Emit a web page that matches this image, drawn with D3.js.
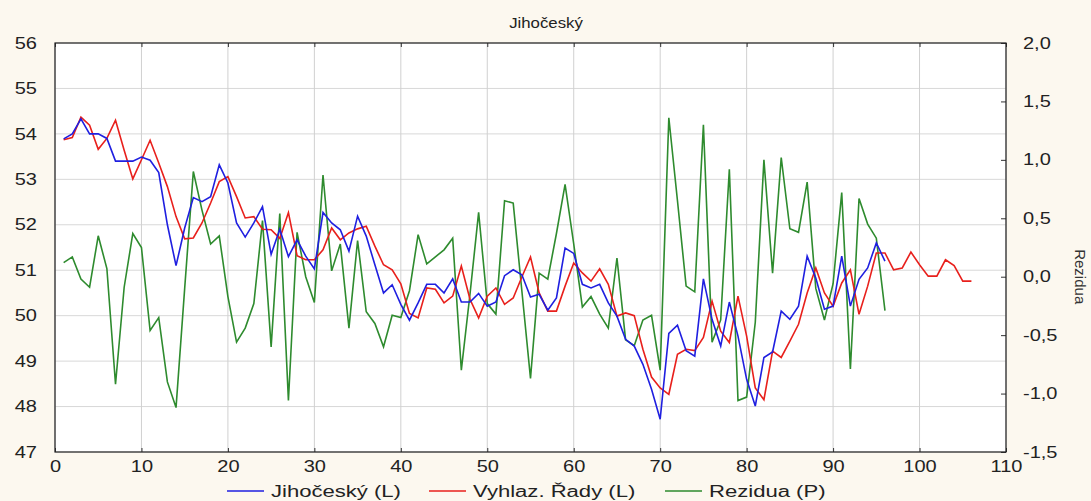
<!DOCTYPE html>
<html>
<head>
<meta charset="utf-8">
<script src="https://cdn.jsdelivr.net/npm/d3@7/dist/d3.min.js"></script>
<style>
    html, body { margin: 0; padding: 0; background: #fcf8ef; }
    svg { display: block; font-family: "Liberation Sans", Arial, sans-serif; }
</style>
</head>
<body>
<svg id="chart" width="1091" height="501"></svg>
<script>
(function () {
    'use strict';

    var title = 'Jihočeský';
    var xTicks = [0, 10, 20, 30, 40, 50, 60, 70, 80, 90, 100, 110];
    var leftTicks = [47, 48, 49, 50, 51, 52, 53, 54, 55, 56];
    var rightTicks = [-1.5, -1.0, -0.5, 0.0, 0.5, 1.0, 1.5, 2.0];

    // Jihočeský (L), t = 1..96
    var observed = [
        53.89, 54.0, 54.33, 54.0, 54.0, 53.9, 53.4, 53.4, 53.4, 53.49,
        53.42, 53.15, 52.0, 51.1, 51.93, 52.6, 52.51, 52.62, 53.32, 52.92,
        52.04, 51.73, 52.04, 52.4, 51.35, 51.9, 51.3, 51.67, 51.31, 51.03,
        52.27, 52.04, 51.89, 51.42, 52.19, 51.75, 51.12, 50.5, 50.68, 50.25,
        49.9, 50.28, 50.69, 50.69, 50.5, 50.81, 50.3, 50.3, 50.49, 50.21,
        50.3, 50.88, 51.01, 50.9, 50.41, 50.47, 50.12, 50.39, 51.49, 51.37,
        50.69, 50.61, 50.69, 50.28, 49.99, 49.48, 49.33, 48.93, 48.38, 47.72,
        49.61, 49.79, 49.23, 49.11, 50.81, 49.92, 49.33, 50.3, 49.55, 48.6,
        48.01, 49.08, 49.2, 50.1, 49.92, 50.21, 51.31, 50.83, 50.14, 50.21,
        51.31, 50.21, 50.8, 51.05, 51.6, 51.2
    ];

    // Vyhlaz. Řady (L), t = 1..106
    var smoothed = [
        53.87, 53.92, 54.37, 54.19, 53.66, 53.9, 54.3, 53.64, 53.01, 53.43,
        53.86, 53.36, 52.84, 52.18, 51.69, 51.71, 52.04, 52.48, 52.95, 53.06,
        52.62, 52.15, 52.18, 51.9, 51.89, 51.7, 52.27, 51.32, 51.23, 51.23,
        51.45, 51.93, 51.67, 51.82, 51.91, 51.97, 51.53, 51.12, 51.01, 50.7,
        50.05, 49.95, 50.61, 50.58, 50.28, 50.43, 51.09, 50.36, 49.95, 50.43,
        50.61, 50.25, 50.39, 50.85, 51.29, 50.5, 50.1, 50.1, 50.65, 51.16,
        50.94, 50.76, 51.03, 50.69, 49.99, 50.06, 50.0, 49.26, 48.65, 48.41,
        48.27, 49.15, 49.26, 49.23, 49.52, 50.32, 49.66, 49.41, 50.43, 49.55,
        48.41, 48.15, 49.22, 49.08, 49.44, 49.81, 50.5, 51.05, 50.5, 50.21,
        50.72, 51.01, 50.03, 50.65, 51.38, 51.38, 51.01, 51.05, 51.4, 51.12,
        50.87, 50.87, 51.23, 51.1, 50.76, 50.76
    ];

    // Rezidua (P), t = 1..96
    var residuals = [
        0.12, 0.17, -0.02, -0.09, 0.35, 0.07, -0.92, -0.09, 0.37, 0.25,
        -0.46, -0.35, -0.9, -1.12, -0.1, 0.9, 0.57, 0.28, 0.35, -0.17,
        -0.56, -0.44, -0.23, 0.48, -0.6, 0.54, -1.06, 0.38, 0.0, -0.22,
        0.87, 0.05, 0.28, -0.44, 0.31, -0.3, -0.4, -0.6, -0.33, -0.35,
        -0.12, 0.36, 0.11, 0.17, 0.23, 0.33, -0.8, -0.15, 0.55, -0.23,
        -0.32, 0.65, 0.63, -0.12, -0.87, 0.03, -0.02, 0.37, 0.79, 0.28,
        -0.26, -0.17, -0.32, -0.44, 0.16, -0.54, -0.59, -0.37, -0.33, -0.8,
        1.36, 0.65, -0.08, -0.13, 1.3, -0.56, -0.37, 0.92, -1.06, -1.03,
        -0.39, 1.0, 0.03, 1.02, 0.41, 0.38, 0.81, -0.1, -0.37, -0.06,
        0.72, -0.79, 0.67, 0.45, 0.33, -0.29
    ];

    var legendItems = [
        {label: 'Jihočeský (L)', color: '#1f1fe0', x: 227},
        {label: 'Vyhlaz. Řady (L)', color: '#e8201c', x: 429},
        {label: 'Rezidua (P)', color: '#2e8b2e', x: 665}
    ];

    var margin = {left: 55, right: 85, top: 43, bottom: 49};
    var width = 1091;
    var height = 501;
    var plotW = width - margin.left - margin.right;
    var plotH = height - margin.top - margin.bottom;

    // the original picture is a little wider than tall, text comes out stretched
    var STRETCH = 1.25;

    var svg = d3.select('#chart');

    var x = d3.scaleLinear().domain([0, 110]).range([0, plotW]);
    var yL = d3.scaleLinear().domain([47, 56]).range([plotH, 0]);
    var yR = d3.scaleLinear().domain([-1.5, 2.0]).range([plotH, 0]);

    var fmtComma = function (d) {
        return d3.format('.1f')(d).replace('.', ',').replace('\u2212', '-');
    };

    function stretchText(sel, sx) {
        sel.each(function () {
            var t = d3.select(this);
            var tx = +t.attr('x') || 0;
            t.attr('x', tx / sx).attr('transform', 'scale(' + sx + ',1)');
        });
    }

    svg.append('text')
        .attr('transform', 'translate(546,28) scale(1.12,1)')
        .attr('text-anchor', 'middle')
        .attr('font-size', 15)
        .attr('fill', '#222')
        .text(title);

    var g = svg.append('g').attr('transform', 'translate(' + margin.left + ',' + margin.top + ')');

    g.append('rect')
        .attr('width', plotW)
        .attr('height', plotH)
        .attr('fill', '#ffffff');

    //Grid
    g.append('g').selectAll('line').data(leftTicks).enter()
        .append('line')
        .attr('x1', 0).attr('x2', plotW)
        .attr('y1', yL).attr('y2', yL)
        .attr('stroke', '#d8d8d8')
        .attr('stroke-width', 1);
    g.append('g').selectAll('line').data(xTicks).enter()
        .append('line')
        .attr('x1', x).attr('x2', x)
        .attr('y1', 0).attr('y2', plotH)
        .attr('stroke', '#d0d0d0')
        .attr('stroke-width', 1);

    //Axes
    var bottomAxis = d3.axisBottom(x).tickValues(xTicks).tickSize(-4).tickPadding(9);
    var topAxis = d3.axisTop(x).tickValues(xTicks).tickSize(-4).tickFormat('');
    var leftAxis = d3.axisLeft(yL).tickValues(leftTicks).tickSize(0).tickPadding(18);
    var rightAxis = d3.axisRight(yR).tickValues(rightTicks).tickSize(-5).tickPadding(17).tickFormat(fmtComma);

    function styleAxis(sel) {
        sel.select('.domain').remove();
        sel.selectAll('line').attr('stroke', '#333');
        sel.selectAll('text')
            .attr('font-family', '"Liberation Sans", Arial, sans-serif')
            .attr('font-size', 16)
            .attr('fill', '#222')
            .call(stretchText, STRETCH);
    }

    g.append('g').attr('transform', 'translate(0,' + plotH + ')').call(bottomAxis).call(styleAxis);
    g.append('g').call(topAxis).call(styleAxis);
    g.append('g').call(leftAxis).call(styleAxis);
    g.append('g').attr('transform', 'translate(' + plotW + ',0)').call(rightAxis).call(styleAxis);

    svg.append('text')
        .attr('transform', 'translate(1075,' + (margin.top + yR(0)) + ') rotate(90)')
        .attr('text-anchor', 'middle')
        .attr('font-size', 15)
        .attr('fill', '#333')
        .text('Rezidua');

    //Series
    var lineL = d3.line()
        .x(function (d, i) { return x(i + 1); })
        .y(function (d) { return yL(d); });
    var lineR = d3.line()
        .x(function (d, i) { return x(i + 1); })
        .y(function (d) { return yR(d); });

    var series = g.append('g');
    series.append('path').datum(residuals)
        .attr('d', lineR).attr('fill', 'none')
        .attr('stroke', legendItems[2].color).attr('stroke-width', 1.6);
    series.append('path').datum(smoothed)
        .attr('d', lineL).attr('fill', 'none')
        .attr('stroke', legendItems[1].color).attr('stroke-width', 1.6);
    series.append('path').datum(observed)
        .attr('d', lineL).attr('fill', 'none')
        .attr('stroke', legendItems[0].color).attr('stroke-width', 1.6);

    g.append('rect')
        .attr('width', plotW)
        .attr('height', plotH)
        .attr('fill', 'none')
        .attr('stroke', '#222')
        .attr('stroke-width', 1.2);

    //Legend
    var legend = svg.append('g').attr('transform', 'translate(0,491)');
    legendItems.forEach(function (item) {
        var entry = legend.append('g').attr('transform', 'translate(' + item.x + ',0)');
        entry.append('line')
            .attr('x1', 0).attr('x2', 37)
            .attr('y1', 0).attr('y2', 0)
            .attr('stroke', item.color)
            .attr('stroke-width', 1.6);
        entry.append('text')
            .attr('transform', 'translate(44,5.5) scale(1.38,1)')
            .attr('font-size', 16)
            .attr('fill', '#222')
            .text(item.label);
    });
})();
</script>
</body>
</html>
